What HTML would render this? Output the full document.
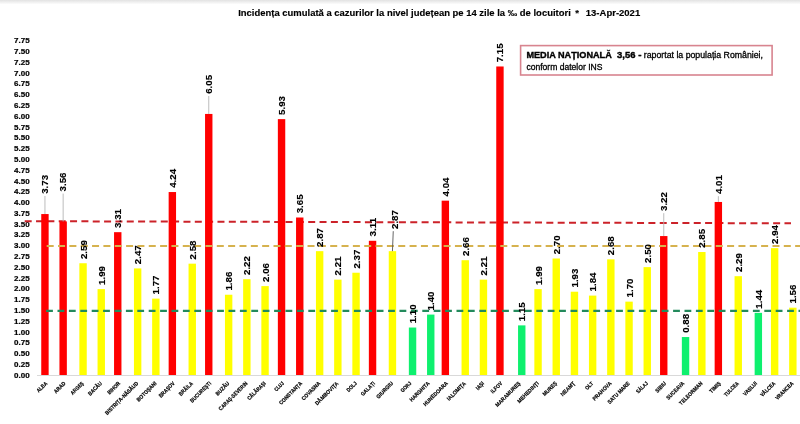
<!DOCTYPE html><html><head><meta charset="utf-8"><style>
html,body{margin:0;padding:0;background:#fff;width:800px;height:424px;overflow:hidden}
svg{display:block;will-change:transform;filter:blur(0.4px)}text{font-family:"Liberation Sans",sans-serif}
</style></head><body>
<svg width="800" height="424" viewBox="0 0 800 424">
<defs><linearGradient id="tg" x1="0" y1="0" x2="0" y2="1"><stop offset="0" stop-color="#e2e2e2"/><stop offset="1" stop-color="#ffffff"/></linearGradient></defs>
<rect x="0" y="0" width="800" height="424" fill="#fff"/>
<rect x="0" y="0" width="800" height="4.5" fill="url(#tg)"/>
<g font-weight="bold" font-size="9.6" fill="#000" stroke="#000" stroke-width="0.15">
<text x="238.2" y="16.3" textLength="332.6" lengthAdjust="spacingAndGlyphs">Incidența cumulată a cazurilor la nivel județean pe 14 zile la ‰ de locuitori</text>
<text x="575.2" y="16.3">*</text>
<text x="585.8" y="16.3" textLength="54.4" lengthAdjust="spacingAndGlyphs">13-Apr-2021</text>
</g>
<g font-weight="bold" font-size="7.6" fill="#000" stroke="#000" stroke-width="0.2" text-anchor="end">
<text x="29.6" y="377.72" textLength="15.6" lengthAdjust="spacingAndGlyphs">0.00</text>
<text x="29.6" y="366.93" textLength="15.6" lengthAdjust="spacingAndGlyphs">0.25</text>
<text x="29.6" y="356.15" textLength="15.6" lengthAdjust="spacingAndGlyphs">0.50</text>
<text x="29.6" y="345.36" textLength="15.6" lengthAdjust="spacingAndGlyphs">0.75</text>
<text x="29.6" y="334.57" textLength="15.6" lengthAdjust="spacingAndGlyphs">1.00</text>
<text x="29.6" y="323.78" textLength="15.6" lengthAdjust="spacingAndGlyphs">1.25</text>
<text x="29.6" y="313.00" textLength="15.6" lengthAdjust="spacingAndGlyphs">1.50</text>
<text x="29.6" y="302.21" textLength="15.6" lengthAdjust="spacingAndGlyphs">1.75</text>
<text x="29.6" y="291.42" textLength="15.6" lengthAdjust="spacingAndGlyphs">2.00</text>
<text x="29.6" y="280.63" textLength="15.6" lengthAdjust="spacingAndGlyphs">2.25</text>
<text x="29.6" y="269.85" textLength="15.6" lengthAdjust="spacingAndGlyphs">2.50</text>
<text x="29.6" y="259.06" textLength="15.6" lengthAdjust="spacingAndGlyphs">2.75</text>
<text x="29.6" y="248.27" textLength="15.6" lengthAdjust="spacingAndGlyphs">3.00</text>
<text x="29.6" y="237.48" textLength="15.6" lengthAdjust="spacingAndGlyphs">3.25</text>
<text x="29.6" y="226.69" textLength="15.6" lengthAdjust="spacingAndGlyphs">3.50</text>
<text x="29.6" y="215.91" textLength="15.6" lengthAdjust="spacingAndGlyphs">3.75</text>
<text x="29.6" y="205.12" textLength="15.6" lengthAdjust="spacingAndGlyphs">4.00</text>
<text x="29.6" y="194.33" textLength="15.6" lengthAdjust="spacingAndGlyphs">4.25</text>
<text x="29.6" y="183.55" textLength="15.6" lengthAdjust="spacingAndGlyphs">4.50</text>
<text x="29.6" y="172.76" textLength="15.6" lengthAdjust="spacingAndGlyphs">4.75</text>
<text x="29.6" y="161.97" textLength="15.6" lengthAdjust="spacingAndGlyphs">5.00</text>
<text x="29.6" y="151.18" textLength="15.6" lengthAdjust="spacingAndGlyphs">5.25</text>
<text x="29.6" y="140.40" textLength="15.6" lengthAdjust="spacingAndGlyphs">5.50</text>
<text x="29.6" y="129.61" textLength="15.6" lengthAdjust="spacingAndGlyphs">5.75</text>
<text x="29.6" y="118.82" textLength="15.6" lengthAdjust="spacingAndGlyphs">6.00</text>
<text x="29.6" y="108.03" textLength="15.6" lengthAdjust="spacingAndGlyphs">6.25</text>
<text x="29.6" y="97.25" textLength="15.6" lengthAdjust="spacingAndGlyphs">6.50</text>
<text x="29.6" y="86.46" textLength="15.6" lengthAdjust="spacingAndGlyphs">6.75</text>
<text x="29.6" y="75.67" textLength="15.6" lengthAdjust="spacingAndGlyphs">7.00</text>
<text x="29.6" y="64.88" textLength="15.6" lengthAdjust="spacingAndGlyphs">7.25</text>
<text x="29.6" y="54.09" textLength="15.6" lengthAdjust="spacingAndGlyphs">7.50</text>
<text x="29.6" y="43.31" textLength="15.6" lengthAdjust="spacingAndGlyphs">7.75</text>
</g>
<rect x="37" y="375.0" width="763" height="1" fill="#d9d9d9"/>
<line x1="24.7" y1="221.2" x2="791" y2="223.3" stroke="#cc2229" stroke-width="2" stroke-dasharray="7 4.34"/>
<rect x="41.25" y="214.05" width="7.4" height="160.95" fill="#ff0000"/>
<rect x="59.45" y="221.39" width="7.4" height="153.61" fill="#ff0000"/>
<rect x="79.35" y="263.24" width="7.4" height="111.76" fill="#ffff00"/>
<rect x="97.55" y="289.13" width="7.4" height="85.87" fill="#ffff00"/>
<rect x="114.05" y="232.17" width="7.4" height="142.83" fill="#ff0000"/>
<rect x="133.95" y="268.42" width="7.4" height="106.58" fill="#ffff00"/>
<rect x="152.15" y="298.62" width="7.4" height="76.38" fill="#ffff00"/>
<rect x="168.65" y="192.04" width="7.4" height="182.96" fill="#ff0000"/>
<rect x="188.55" y="263.67" width="7.4" height="111.33" fill="#ffff00"/>
<rect x="205.05" y="113.94" width="7.4" height="261.06" fill="#ff0000"/>
<rect x="224.95" y="294.74" width="7.4" height="80.26" fill="#ffff00"/>
<rect x="243.15" y="279.21" width="7.4" height="95.79" fill="#ffff00"/>
<rect x="261.35" y="286.11" width="7.4" height="88.89" fill="#ffff00"/>
<rect x="277.85" y="119.12" width="7.4" height="255.88" fill="#ff0000"/>
<rect x="296.05" y="217.50" width="7.4" height="157.50" fill="#ff0000"/>
<rect x="315.95" y="251.16" width="7.4" height="123.84" fill="#ffff00"/>
<rect x="334.15" y="279.64" width="7.4" height="95.36" fill="#ffff00"/>
<rect x="352.35" y="272.73" width="7.4" height="102.27" fill="#ffff00"/>
<rect x="368.85" y="240.80" width="7.4" height="134.20" fill="#ff0000"/>
<rect x="388.75" y="251.16" width="7.4" height="123.84" fill="#ffff00"/>
<rect x="408.85" y="327.53" width="7.4" height="47.47" fill="#0ef06e"/>
<rect x="427.05" y="314.59" width="7.4" height="60.41" fill="#0ef06e"/>
<rect x="441.65" y="200.67" width="7.4" height="174.33" fill="#ff0000"/>
<rect x="461.55" y="260.22" width="7.4" height="114.78" fill="#ffff00"/>
<rect x="479.75" y="279.64" width="7.4" height="95.36" fill="#ffff00"/>
<rect x="496.25" y="66.48" width="7.4" height="308.52" fill="#ff0000"/>
<rect x="518.05" y="325.38" width="7.4" height="49.62" fill="#0ef06e"/>
<rect x="534.35" y="289.13" width="7.4" height="85.87" fill="#ffff00"/>
<rect x="552.55" y="258.50" width="7.4" height="116.50" fill="#ffff00"/>
<rect x="570.75" y="291.72" width="7.4" height="83.28" fill="#ffff00"/>
<rect x="588.95" y="295.60" width="7.4" height="79.40" fill="#ffff00"/>
<rect x="607.15" y="259.36" width="7.4" height="115.64" fill="#ffff00"/>
<rect x="625.35" y="301.64" width="7.4" height="73.36" fill="#ffff00"/>
<rect x="643.55" y="267.12" width="7.4" height="107.88" fill="#ffff00"/>
<rect x="660.05" y="236.06" width="7.4" height="138.94" fill="#ff0000"/>
<rect x="681.85" y="337.03" width="7.4" height="37.97" fill="#0ef06e"/>
<rect x="698.15" y="252.02" width="7.4" height="122.98" fill="#ffff00"/>
<rect x="714.65" y="201.97" width="7.4" height="173.03" fill="#ff0000"/>
<rect x="734.55" y="276.19" width="7.4" height="98.81" fill="#ffff00"/>
<rect x="754.65" y="312.86" width="7.4" height="62.14" fill="#0ef06e"/>
<rect x="770.95" y="248.14" width="7.4" height="126.86" fill="#ffff00"/>
<rect x="789.15" y="307.69" width="7.4" height="67.31" fill="#ffff00"/>
<line x1="46.7" y1="245.9" x2="800" y2="245.9" stroke="#d6b24e" stroke-width="2" stroke-dasharray="7 4.34"/>
<line x1="46.1" y1="310.9" x2="800" y2="310.9" stroke="#238a5c" stroke-width="2.1" stroke-dasharray="6.8 4.6"/>
<g font-weight="bold" font-size="9.7" fill="#000" stroke="#000" stroke-width="0.15">
<line x1="44.95" y1="196.00" x2="44.95" y2="214.05" stroke="#b4b4b4" stroke-width="0.9"/>
<text transform="translate(48.12,193.80) rotate(-90)" textLength="18.9" lengthAdjust="spacingAndGlyphs">3.73</text>
<line x1="63.15" y1="193.60" x2="63.15" y2="221.39" stroke="#b4b4b4" stroke-width="0.9"/>
<text transform="translate(66.32,191.40) rotate(-90)" textLength="18.9" lengthAdjust="spacingAndGlyphs">3.56</text>
<text transform="translate(86.52,259.04) rotate(-90)" textLength="18.9" lengthAdjust="spacingAndGlyphs">2.59</text>
<text transform="translate(104.72,284.93) rotate(-90)" textLength="18.9" lengthAdjust="spacingAndGlyphs">1.99</text>
<text transform="translate(121.22,227.97) rotate(-90)" textLength="18.9" lengthAdjust="spacingAndGlyphs">3.31</text>
<text transform="translate(141.12,264.22) rotate(-90)" textLength="18.9" lengthAdjust="spacingAndGlyphs">2.47</text>
<text transform="translate(159.32,294.42) rotate(-90)" textLength="18.9" lengthAdjust="spacingAndGlyphs">1.77</text>
<text transform="translate(175.82,187.84) rotate(-90)" textLength="18.9" lengthAdjust="spacingAndGlyphs">4.24</text>
<text transform="translate(195.72,259.47) rotate(-90)" textLength="18.9" lengthAdjust="spacingAndGlyphs">2.58</text>
<line x1="208.75" y1="96.00" x2="208.75" y2="113.94" stroke="#b4b4b4" stroke-width="0.9"/>
<text transform="translate(212.22,93.80) rotate(-90)" textLength="18.9" lengthAdjust="spacingAndGlyphs">6.05</text>
<text transform="translate(232.12,290.54) rotate(-90)" textLength="18.9" lengthAdjust="spacingAndGlyphs">1.86</text>
<text transform="translate(250.32,275.01) rotate(-90)" textLength="18.9" lengthAdjust="spacingAndGlyphs">2.22</text>
<text transform="translate(268.52,281.91) rotate(-90)" textLength="18.9" lengthAdjust="spacingAndGlyphs">2.06</text>
<text transform="translate(285.02,114.92) rotate(-90)" textLength="18.9" lengthAdjust="spacingAndGlyphs">5.93</text>
<text transform="translate(303.22,213.30) rotate(-90)" textLength="18.9" lengthAdjust="spacingAndGlyphs">3.65</text>
<text transform="translate(323.12,246.96) rotate(-90)" textLength="18.9" lengthAdjust="spacingAndGlyphs">2.87</text>
<text transform="translate(341.32,275.44) rotate(-90)" textLength="18.9" lengthAdjust="spacingAndGlyphs">2.21</text>
<text transform="translate(359.52,268.53) rotate(-90)" textLength="18.9" lengthAdjust="spacingAndGlyphs">2.37</text>
<text transform="translate(376.02,236.60) rotate(-90)" textLength="18.9" lengthAdjust="spacingAndGlyphs">3.11</text>
<line x1="393.25" y1="231.20" x2="392.45" y2="251.16" stroke="#555555" stroke-width="0.9"/>
<text transform="translate(397.52,229.00) rotate(-90)" textLength="18.9" lengthAdjust="spacingAndGlyphs">2.87</text>
<text transform="translate(416.02,323.33) rotate(-90)" textLength="18.9" lengthAdjust="spacingAndGlyphs">1.10</text>
<text transform="translate(434.22,310.39) rotate(-90)" textLength="18.9" lengthAdjust="spacingAndGlyphs">1.40</text>
<text transform="translate(448.82,196.47) rotate(-90)" textLength="18.9" lengthAdjust="spacingAndGlyphs">4.04</text>
<text transform="translate(468.72,256.02) rotate(-90)" textLength="18.9" lengthAdjust="spacingAndGlyphs">2.66</text>
<text transform="translate(486.92,275.44) rotate(-90)" textLength="18.9" lengthAdjust="spacingAndGlyphs">2.21</text>
<text transform="translate(503.42,62.28) rotate(-90)" textLength="18.9" lengthAdjust="spacingAndGlyphs">7.15</text>
<text transform="translate(525.22,321.18) rotate(-90)" textLength="18.9" lengthAdjust="spacingAndGlyphs">1.15</text>
<text transform="translate(541.52,284.93) rotate(-90)" textLength="18.9" lengthAdjust="spacingAndGlyphs">1.99</text>
<text transform="translate(559.72,254.30) rotate(-90)" textLength="18.9" lengthAdjust="spacingAndGlyphs">2.70</text>
<text transform="translate(577.92,287.52) rotate(-90)" textLength="18.9" lengthAdjust="spacingAndGlyphs">1.93</text>
<text transform="translate(596.12,291.40) rotate(-90)" textLength="18.9" lengthAdjust="spacingAndGlyphs">1.84</text>
<text transform="translate(614.32,255.16) rotate(-90)" textLength="18.9" lengthAdjust="spacingAndGlyphs">2.68</text>
<text transform="translate(632.52,297.44) rotate(-90)" textLength="18.9" lengthAdjust="spacingAndGlyphs">1.70</text>
<text transform="translate(650.72,262.93) rotate(-90)" textLength="18.9" lengthAdjust="spacingAndGlyphs">2.50</text>
<line x1="663.75" y1="213.20" x2="663.75" y2="236.06" stroke="#b4b4b4" stroke-width="0.9"/>
<text transform="translate(667.22,211.00) rotate(-90)" textLength="18.9" lengthAdjust="spacingAndGlyphs">3.22</text>
<text transform="translate(689.02,332.83) rotate(-90)" textLength="18.9" lengthAdjust="spacingAndGlyphs">0.88</text>
<text transform="translate(705.32,247.82) rotate(-90)" textLength="18.9" lengthAdjust="spacingAndGlyphs">2.85</text>
<line x1="718.35" y1="196.20" x2="718.35" y2="201.97" stroke="#b4b4b4" stroke-width="0.9"/>
<text transform="translate(721.82,194.00) rotate(-90)" textLength="18.9" lengthAdjust="spacingAndGlyphs">4.01</text>
<text transform="translate(741.72,271.99) rotate(-90)" textLength="18.9" lengthAdjust="spacingAndGlyphs">2.29</text>
<text transform="translate(761.82,308.66) rotate(-90)" textLength="18.9" lengthAdjust="spacingAndGlyphs">1.44</text>
<text transform="translate(778.12,243.94) rotate(-90)" textLength="18.9" lengthAdjust="spacingAndGlyphs">2.94</text>
<text transform="translate(796.32,303.49) rotate(-90)" textLength="18.9" lengthAdjust="spacingAndGlyphs">1.56</text>
</g>
<g font-weight="bold" font-size="5.5" fill="#000" stroke="#000" stroke-width="0.2" text-anchor="end">
<text transform="translate(47.75,383.8) rotate(-45)" textLength="12.74" lengthAdjust="spacingAndGlyphs">ALBA</text>
<text transform="translate(65.95,383.8) rotate(-45)" textLength="13.95" lengthAdjust="spacingAndGlyphs">ARAD</text>
<text transform="translate(84.15,383.8) rotate(-45)" textLength="16.05" lengthAdjust="spacingAndGlyphs">ARGEȘ</text>
<text transform="translate(102.35,383.8) rotate(-45)" textLength="17.14" lengthAdjust="spacingAndGlyphs">BACĂU</text>
<text transform="translate(120.55,383.8) rotate(-45)" textLength="15.65" lengthAdjust="spacingAndGlyphs">BIHOR</text>
<text transform="translate(138.75,383.8) rotate(-45)" textLength="44.43" lengthAdjust="spacingAndGlyphs">BISTRIȚA-NĂSĂUD</text>
<text transform="translate(156.95,383.8) rotate(-45)" textLength="25.60" lengthAdjust="spacingAndGlyphs">BOTOȘANI</text>
<text transform="translate(175.15,383.8) rotate(-45)" textLength="20.13" lengthAdjust="spacingAndGlyphs">BRAȘOV</text>
<text transform="translate(193.35,383.8) rotate(-45)" textLength="17.55" lengthAdjust="spacingAndGlyphs">BRĂILA</text>
<text transform="translate(211.55,383.8) rotate(-45)" textLength="27.16" lengthAdjust="spacingAndGlyphs">BUCUREȘTI</text>
<text transform="translate(229.75,383.8) rotate(-45)" textLength="17.12" lengthAdjust="spacingAndGlyphs">BUZĂU</text>
<text transform="translate(247.95,383.8) rotate(-45)" textLength="38.35" lengthAdjust="spacingAndGlyphs">CARAȘ-SEVERIN</text>
<text transform="translate(266.15,383.8) rotate(-45)" textLength="23.62" lengthAdjust="spacingAndGlyphs">CĂLĂRAȘI</text>
<text transform="translate(284.35,383.8) rotate(-45)" textLength="11.23" lengthAdjust="spacingAndGlyphs">CLUJ</text>
<text transform="translate(302.55,383.8) rotate(-45)" textLength="30.15" lengthAdjust="spacingAndGlyphs">CONSTANȚA</text>
<text transform="translate(320.75,383.8) rotate(-45)" textLength="24.01" lengthAdjust="spacingAndGlyphs">COVASNA</text>
<text transform="translate(338.95,383.8) rotate(-45)" textLength="30.77" lengthAdjust="spacingAndGlyphs">DÂMBOVIȚA</text>
<text transform="translate(357.15,383.8) rotate(-45)" textLength="11.95" lengthAdjust="spacingAndGlyphs">DOLJ</text>
<text transform="translate(375.35,383.8) rotate(-45)" textLength="17.60" lengthAdjust="spacingAndGlyphs">GALAȚI</text>
<text transform="translate(393.55,383.8) rotate(-45)" textLength="21.33" lengthAdjust="spacingAndGlyphs">GIURGIU</text>
<text transform="translate(411.75,383.8) rotate(-45)" textLength="12.80" lengthAdjust="spacingAndGlyphs">GORJ</text>
<text transform="translate(429.95,383.8) rotate(-45)" textLength="25.73" lengthAdjust="spacingAndGlyphs">HARGHITA</text>
<text transform="translate(448.15,383.8) rotate(-45)" textLength="31.97" lengthAdjust="spacingAndGlyphs">HUNEDOARA</text>
<text transform="translate(466.35,383.8) rotate(-45)" textLength="24.44" lengthAdjust="spacingAndGlyphs">IALOMIȚA</text>
<text transform="translate(484.55,383.8) rotate(-45)" textLength="9.36" lengthAdjust="spacingAndGlyphs">IAȘI</text>
<text transform="translate(502.75,383.8) rotate(-45)" textLength="14.01" lengthAdjust="spacingAndGlyphs">ILFOV</text>
<text transform="translate(520.95,383.8) rotate(-45)" textLength="33.06" lengthAdjust="spacingAndGlyphs">MARAMUREȘ</text>
<text transform="translate(539.15,383.8) rotate(-45)" textLength="27.83" lengthAdjust="spacingAndGlyphs">MEHEDINȚI</text>
<text transform="translate(557.35,383.8) rotate(-45)" textLength="17.70" lengthAdjust="spacingAndGlyphs">MUREȘ</text>
<text transform="translate(575.55,383.8) rotate(-45)" textLength="18.11" lengthAdjust="spacingAndGlyphs">NEAMȚ</text>
<text transform="translate(593.75,383.8) rotate(-45)" textLength="9.25" lengthAdjust="spacingAndGlyphs">OLT</text>
<text transform="translate(611.95,383.8) rotate(-45)" textLength="24.39" lengthAdjust="spacingAndGlyphs">PRAHOVA</text>
<text transform="translate(630.15,383.8) rotate(-45)" textLength="28.91" lengthAdjust="spacingAndGlyphs">SATU MARE</text>
<text transform="translate(648.35,383.8) rotate(-45)" textLength="14.15" lengthAdjust="spacingAndGlyphs">SĂLAJ</text>
<text transform="translate(666.55,383.8) rotate(-45)" textLength="12.88" lengthAdjust="spacingAndGlyphs">SIBIU</text>
<text transform="translate(684.75,383.8) rotate(-45)" textLength="22.89" lengthAdjust="spacingAndGlyphs">SUCEAVA</text>
<text transform="translate(702.95,383.8) rotate(-45)" textLength="30.58" lengthAdjust="spacingAndGlyphs">TELEORMAN</text>
<text transform="translate(721.15,383.8) rotate(-45)" textLength="13.78" lengthAdjust="spacingAndGlyphs">TIMIȘ</text>
<text transform="translate(739.35,383.8) rotate(-45)" textLength="18.53" lengthAdjust="spacingAndGlyphs">TULCEA</text>
<text transform="translate(757.55,383.8) rotate(-45)" textLength="17.48" lengthAdjust="spacingAndGlyphs">VASLUI</text>
<text transform="translate(775.75,383.8) rotate(-45)" textLength="18.81" lengthAdjust="spacingAndGlyphs">VÂLCEA</text>
<text transform="translate(793.95,383.8) rotate(-45)" textLength="23.44" lengthAdjust="spacingAndGlyphs">VRANCEA</text>
</g>
<rect x="520.6" y="45.6" width="251.5" height="29.4" fill="#fff" stroke="#d8848f" stroke-width="1.6"/>
<text x="526.4" y="58.0" font-size="9.8" font-weight="bold" stroke="#000" stroke-width="0.4" textLength="85.4" lengthAdjust="spacingAndGlyphs">MEDIA NAȚIONALĂ</text>
<text x="617.0" y="58.0" font-size="9.8" font-weight="bold" stroke="#000" stroke-width="0.4" textLength="18.4" lengthAdjust="spacingAndGlyphs">3,56</text>
<text x="638.2" y="58.0" font-size="9.8" font-weight="bold" stroke="#000" stroke-width="0.4">-</text>
<text x="643.8" y="58.0" font-size="8.7" stroke="#000" stroke-width="0.3" textLength="119.2" lengthAdjust="spacingAndGlyphs">raportat la populația României,</text>
<text x="526.4" y="69.8" font-size="8.7" stroke="#000" stroke-width="0.3" textLength="76.1" lengthAdjust="spacingAndGlyphs">conform datelor INS</text>
</svg></body></html>
